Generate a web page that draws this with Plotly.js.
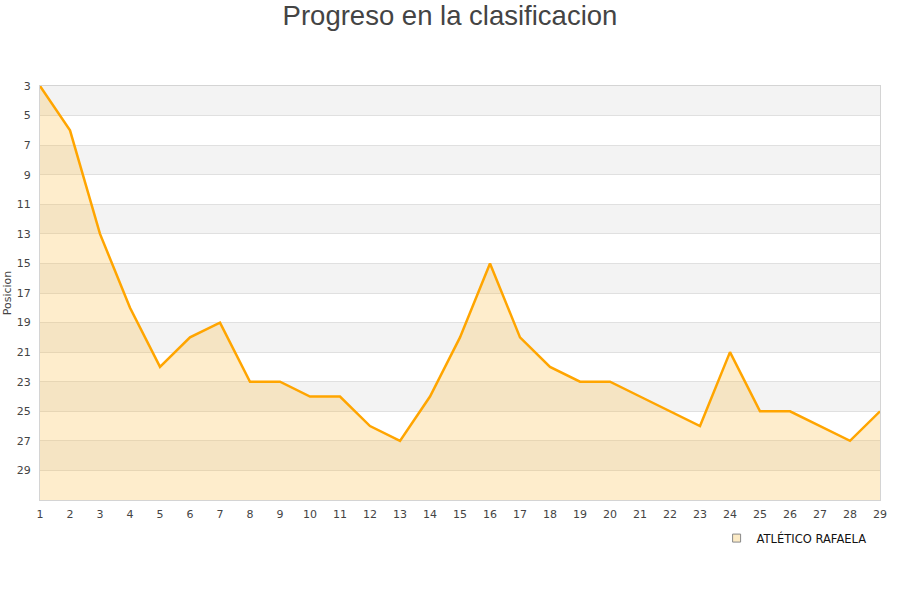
<!DOCTYPE html>
<html>
<head>
<meta charset="utf-8">
<script src="https://cdn.plot.ly/plotly-3.0.1.min.js"></script>
<style>
  body { margin: 0; background: #fff; }
  #myDiv { width: 900px; height: 600px; }
</style>
</head>
<body>
<div id="myDiv"></div>
<script>
// jornadas y posicion del equipo
const rounds = [1, 2, 3, 4, 5, 6, 7, 8, 9, 10, 11, 12, 13, 14, 15, 16, 17, 18, 19, 20, 21, 22, 23, 24, 25, 26, 27, 28, 29];
const positions = [3, 6, 13, 18, 22, 20, 19, 23, 23, 24, 24, 26, 27, 24, 20, 15, 20, 22, 23, 23, 24, 25, 26, 21, 25, 25, 26, 27, 25];
const yTicks = [3, 5, 7, 9, 11, 13, 15, 17, 19, 21, 23, 25, 27, 29];
const teamName = 'ATLÉTICO RAFAELA';
const bottomPos = 31;

var font = 'DejaVu Sans, sans-serif';

// franjas grises alternas
var bands = [];
for (var i = 0; i < yTicks.length; i += 2) {
    bands.push({
        type: 'rect', xref: 'paper', yref: 'y', layer: 'below',
        x0: 0, x1: 1, y0: yTicks[i], y1: yTicks[i] + 2,
        fillcolor: '#f3f3f3', line: {width: 0}
    });
}

var base = {
    x: rounds, y: rounds.map(() => bottomPos),
    mode: 'lines', line: {width: 0}, showlegend: false, hoverinfo: 'skip'
};
var area = {
    x: rounds, y: positions, mode: 'lines', fill: 'tonexty',
    fillcolor: 'rgba(251,183,51,0.25)',
    line: {color: '#FFA500', width: 2.5},
    showlegend: false, name: teamName
};
var legendItem = {
    x: [null], y: [null], mode: 'markers', name: teamName,
    marker: {symbol: 'square', size: 8, color: '#fcebc6', line: {color: '#888', width: 1}}
};

var layout = {
    width: 900, height: 600,
    margin: {l: 40, r: 20, t: 86, b: 100},
    paper_bgcolor: '#fff', plot_bgcolor: '#fff',
    title: {
        text: 'Progreso en la clasificacion',
        font: {family: 'Liberation Sans, Arial, sans-serif', size: 27.5, color: '#444'},
        x: 0.5, xanchor: 'center', y: 0.975, yanchor: 'middle', yref: 'container'
    },
    xaxis: {
        range: [1, 29], tickvals: rounds, showgrid: false, zeroline: false,
        showline: true, linecolor: '#d4d4d4', linewidth: 1, mirror: true,
        ticks: '', ticklabelstandoff: 4, tickfont: {family: font, size: 11, color: '#444'}
    },
    yaxis: {
        range: [bottomPos, 3], tickvals: yTicks, zeroline: false,
        gridcolor: '#e0e0e0', gridwidth: 1,
        showline: true, linecolor: '#d4d4d4', linewidth: 1, mirror: true,
        ticks: '', ticklabelstandoff: 6, tickfont: {family: font, size: 11, color: '#444'},
        title: {text: 'Posicion', font: {family: font, size: 11, color: '#444'}, standoff: 2}
    },
    shapes: bands,
    showlegend: true,
    legend: {
        orientation: 'h', x: 0.99, xanchor: 'right', y: -0.092, yanchor: 'middle',
        font: {family: font, size: 11.5, color: '#111'}, bgcolor: 'rgba(0,0,0,0)'
    }
};

Plotly.newPlot('myDiv', [base, area, legendItem], layout, {displayModeBar: false});
</script>
</body>
</html>
